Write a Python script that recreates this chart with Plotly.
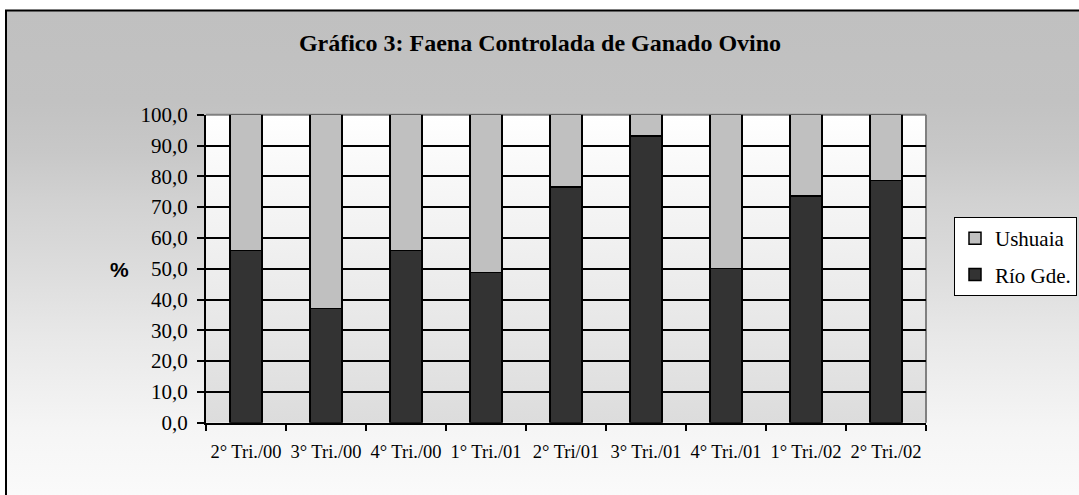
import base64
import plotly.graph_objects as go

# ---------------- data ----------------
categories = ["2° Tri./00", "3° Tri./00", "4° Tri./00", "1° Tri./01", "2° Tri/01",
              "3° Tri./01", "4° Tri./01", "1° Tri./02", "2° Tri./02"]
rio_gde = [55.9, 37.1, 55.9, 48.8, 76.6, 93.1, 50.1, 73.6, 78.7]
ushuaia = [44.1, 62.9, 44.1, 51.2, 23.4, 6.9, 49.9, 26.4, 21.3]
y_ticks = [0, 10, 20, 30, 40, 50, 60, 70, 80, 90, 100]

title_text = "Gráfico 3: Faena Controlada de Ganado Ovino"
y_label = "%"

# ---------------- geometry (pixels) ----------------
W, H = 1079, 495
PX0, PX1 = 206, 926      # plot area left/right
PY0, PY1 = 114.7, 422.7  # plot area top/bottom


def fx(x):
    return x / W


def fy(y):
    return 1 - y / H


def grad_uri(stops):
    s = "".join(f'<stop offset="{o}" stop-color="{c}"/>' for o, c in stops)
    svg = ('<svg xmlns="http://www.w3.org/2000/svg" width="100" height="100" '
           'viewBox="0 0 100 100" preserveAspectRatio="none"><defs>'
           f'<linearGradient id="g" x1="0" y1="0" x2="0" y2="1">{s}</linearGradient>'
           '</defs><rect x="0" y="0" width="100" height="100" fill="url(#g)"/></svg>')
    return "data:image/svg+xml;base64," + base64.b64encode(svg.encode()).decode()


paper_grad = grad_uri([(0, "#c0c0c0"), (0.186, "#c2c2c2"), (0.289, "#c8c8c8"),
                       (0.392, "#d2d2d2"), (0.495, "#dadada"), (0.66, "#e8e8e8"),
                       (0.845, "#f5f5f5"), (1, "#fbfbfb")])
plot_grad = grad_uri([(0, "#ffffff"), (1, "#dcdcdc")])

fig = go.Figure()
fig.add_trace(go.Bar(
    name="Río Gde.", x=categories, y=rio_gde, legendgroup="rio", legendrank=2,
    marker=dict(color="#333333", line=dict(color="black", width=1.5)),
))
fig.add_trace(go.Bar(
    name="Ushuaia", x=categories, y=ushuaia, legendgroup="ush", legendrank=1,
    marker=dict(color="#c0c0c0", line=dict(color="black", width=1.5)),
))

fig.update_layout(
    width=W, height=H,
    autosize=False,
    margin=dict(l=0, r=0, t=0, b=0, pad=0, autoexpand=False),
    paper_bgcolor="white",
    plot_bgcolor="rgba(0,0,0,0)",
    barmode="stack",
    bargap=0.6,
    separators=", ",
    showlegend=True,
    title=dict(text=title_text, x=540 / W, xanchor="center", y=fy(43), yanchor="middle",
               automargin=False,
               font=dict(family="Liberation Serif", size=24, color="black", weight="bold")),
    legend=dict(x=fx(954), y=fy(217), xanchor="left", yanchor="top",
                bgcolor="white", bordercolor="black", borderwidth=1,
                font=dict(family="Liberation Serif", size=21, color="black"),
                traceorder="grouped", tracegroupgap=6),
    xaxis=dict(domain=[fx(PX0), fx(PX1)], type="category", automargin=False,
               showline=True, linecolor="black", linewidth=2,
               showgrid=False, tickson="boundaries", ticks="outside",
               ticklen=6, tickwidth=1.5, tickcolor="black",
               tickangle=0, ticklabelstandoff=11,
               tickfont=dict(family="Liberation Serif", size=18.5, color="black")),
    yaxis=dict(domain=[fy(PY1), fy(PY0)], range=[0, 100], automargin=False,
               tickvals=y_ticks, tickformat=".1f",
               showline=True, linecolor="black", linewidth=2,
               showgrid=True, gridcolor="black", gridwidth=1.5,
               zeroline=False, ticks="outside", ticklen=7, tickwidth=1.5,
               tickcolor="black", ticklabelstandoff=5,
               tickfont=dict(family="Liberation Serif", size=21, color="black")),
    images=[
        dict(source=paper_grad, xref="paper", yref="paper", x=fx(6), y=fy(10),
             sizex=(W - 6) / W + 0.02, sizey=(H - 10) / H + 0.02,
             xanchor="left", yanchor="top", sizing="stretch", layer="below"),
        dict(source=plot_grad, xref="paper", yref="paper", x=fx(PX0), y=fy(PY0),
             sizex=(PX1 - PX0) / W, sizey=(PY1 - PY0) / H,
             xanchor="left", yanchor="top", sizing="stretch", layer="below"),
    ],
    shapes=[
        # plot-area top and right border (gray)
        dict(type="line", xref="paper", yref="paper", x0=fx(PX0), x1=fx(PX1),
             y0=fy(PY0), y1=fy(PY0), line=dict(color="#808080", width=2), layer="below"),
        dict(type="line", xref="paper", yref="paper", x0=fx(PX1), x1=fx(PX1),
             y0=fy(PY0), y1=fy(PY1), line=dict(color="#808080", width=2), layer="below"),
        # outer chart border
        dict(type="rect", xref="paper", yref="paper", x0=fx(6), x1=1.05,
             y0=-0.05, y1=fy(10.5), line=dict(color="black", width=2),
             fillcolor="rgba(0,0,0,0)", layer="above"),
    ],
    annotations=[
        dict(text=y_label, xref="paper", yref="paper", x=fx(119.5), y=fy(269),
             xanchor="center", yanchor="middle", showarrow=False,
             font=dict(family="Liberation Sans", size=21, color="black", weight="bold")),
    ],
)

fig.write_html(
    "out.html",
    config={"responsive": False, "displayModeBar": False},
    post_script="document.body.style.margin='0';document.body.style.overflow='hidden';",
)
